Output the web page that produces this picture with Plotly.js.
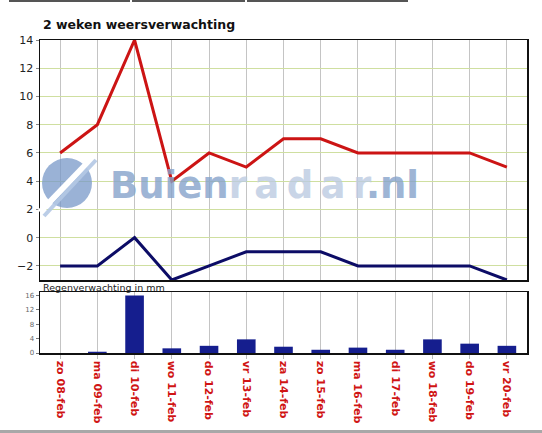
<!DOCTYPE html>
<html>
<head>
<meta charset="utf-8">
<script src="https://cdn.plot.ly/plotly-3.0.1.min.js"></script>
<style>
  html, body { margin: 0; padding: 0; background: #fff; }
  #chart { position: absolute; left: 0; top: 0; width: 542px; height: 433px; }
  .tab { position: absolute; top: 0; height: 2px; background: #555; }
  #foot { position: absolute; left: 0; top: 430px; width: 542px; height: 3px; background: #a8a8a8; }
</style>
</head>
<body>
<div id="chart"></div>
<div class="tab" style="left:9px;width:121px"></div>
<div class="tab" style="left:132px;width:113px"></div>
<div class="tab" style="left:247px;width:161px"></div>
<div id="foot"></div>
<script>
const days = ["zo 08-feb","ma 09-feb","di 10-feb","wo 11-feb","do 12-feb","vr 13-feb","za 14-feb",
              "zo 15-feb","ma 16-feb","di 17-feb","wo 18-feb","do 19-feb","vr 20-feb"];
const maxTemp = [6, 8, 14, 4, 6, 5, 7, 7, 6, 6, 6, 6, 5];
const minTemp = [-2, -2, 0, -3, -2, -1, -1, -1, -2, -2, -2, -2, -3];
const rain = [0, 0.35, 16, 1.3, 2.0, 3.8, 1.75, 0.9, 1.5, 0.9, 3.8, 2.6, 2.0];

const traces = [
  { x: days, y: maxTemp, type: 'scatter', mode: 'lines', xaxis: 'x', yaxis: 'y',
    line: { color: '#cc1414', width: 3 }, hoverinfo: 'skip' },
  { x: days, y: minTemp, type: 'scatter', mode: 'lines', xaxis: 'x', yaxis: 'y',
    line: { color: '#0c0c66', width: 3 }, hoverinfo: 'skip' },
  { x: days, y: rain, type: 'bar', xaxis: 'x2', yaxis: 'y2', width: 0.5,
    marker: { color: '#151e8e' }, hoverinfo: 'skip' }
];

const PW = 487, PH = 313, PT = 40;
const px = v => (v - 40) / PW;           // page x -> paper x
const py = v => (PT + PH - v) / PH;      // page y -> paper y

const xr = [-0.54, 12.54];
const layout = {
  width: 542, height: 433,
  margin: { l: 40, r: 15, t: 40, b: 80 },
  paper_bgcolor: '#ffffff', plot_bgcolor: '#ffffff',
  showlegend: false,
  font: { family: 'DejaVu Sans, Verdana, sans-serif', color: '#222' },
  title: { text: '2 weken weersverwachting', x: 43/542, xanchor: 'left', y: 1 - 25/433, yanchor: 'middle',
           font: { family: 'DejaVu Sans, Verdana, sans-serif', size: 12.5, color: '#111', weight: 'bold' } },
  xaxis: { type: 'category', range: xr, anchor: 'y', domain: [0, 1],
           showticklabels: false, showgrid: true, gridcolor: '#c4c4c4', gridwidth: 1,
           showline: true, linecolor: '#111', linewidth: 1.5, mirror: true, ticks: '', zeroline: false },
  yaxis: { domain: [73/313, 1], range: [-3, 14], dtick: 2, tick0: 0, anchor: 'x',
           showgrid: true, gridcolor: '#cfdfa0', gridwidth: 1, zeroline: false,
           showline: true, linecolor: '#111', linewidth: 1.5, mirror: true,
           ticks: 'outside', ticklen: 3, tickcolor: '#888',
           tickfont: { size: 11, color: '#222' } },
  xaxis2: { type: 'category', range: xr, anchor: 'y2', domain: [0, 1],
            showgrid: true, gridcolor: '#c4c4c4', gridwidth: 1,
            showline: true, linecolor: '#111', linewidth: 1.5, mirror: true,
            ticks: 'outside', ticklen: 4, tickcolor: '#bbb', tickangle: 90,
            tickfont: { size: 11, color: '#d01414', weight: 'bold' }, zeroline: false },
  yaxis2: { domain: [0, 61/313], range: [0, 17], dtick: 4, anchor: 'x2',
            showgrid: false, zeroline: false,
            showline: true, linecolor: '#111', linewidth: 1.5, mirror: true,
            ticks: 'outside', ticklen: 3, tickcolor: '#777',
            tickfont: { size: 7, color: '#666' } },
  bargap: 0.5,
  annotations: [
    { xref: 'paper', yref: 'paper', x: px(41), y: py(287), xanchor: 'left', yanchor: 'middle',
      text: 'Regenverwachting in mm', showarrow: false,
      font: { size: 9.5, color: '#222', family: 'DejaVu Sans, Verdana, sans-serif' } },
    { xref: 'paper', yref: 'paper', x: px(108), y: py(186), xanchor: 'left', yanchor: 'middle',
      text: '<span style="color:#86a3cb">Buien</span><span style="color:#bccbe2">r\u2009a\u2009d\u2009a\u2009r</span><span style="color:#86a3cb">.nl</span>',
      showarrow: false, opacity: 0.8,
      font: { size: 37, family: 'DejaVu Sans, Verdana, sans-serif', weight: 'bold' } }
  ],
  shapes: [
    { type: 'circle', xref: 'paper', yref: 'paper', layer: 'above',
      x0: px(42), x1: px(92), y0: py(208), y1: py(158),
      fillcolor: 'rgba(120,152,200,0.75)', line: { width: 0 } },
    { type: 'line', xref: 'paper', yref: 'paper', layer: 'above',
      x0: px(40), x1: px(94), y0: py(212), y1: py(156),
      line: { color: '#ffffff', width: 6 } },
    { type: 'line', xref: 'paper', yref: 'paper', layer: 'above',
      x0: px(44), x1: px(96), y0: py(216), y1: py(160),
      line: { color: 'rgba(180,200,228,0.9)', width: 4 } }
  ]
};

Plotly.newPlot('chart', traces, layout, { displayModeBar: false, staticPlot: true });
</script>
</body>
</html>
